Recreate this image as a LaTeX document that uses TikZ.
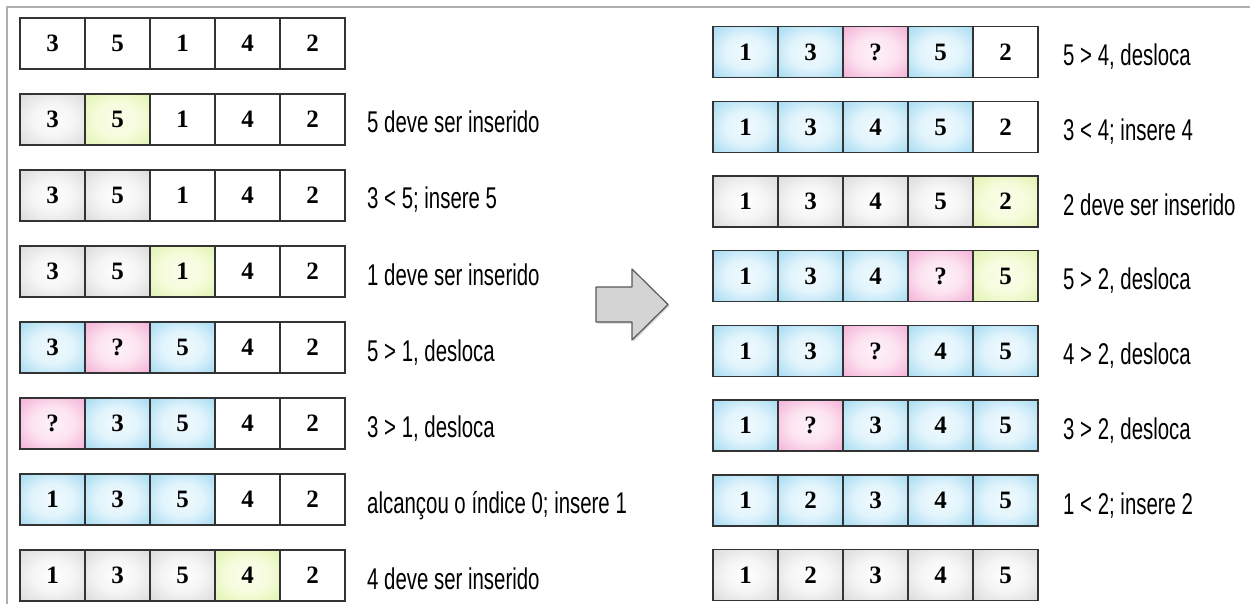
\documentclass[tikz,border=0pt]{standalone}
\usepackage{fontspec}
\setmainfont{Liberation Serif}
\newfontfamily\notefont[FakeStretch=0.68]{Liberation Sans}
\usetikzlibrary{shadows}
\definecolor{framegray}{RGB}{175,175,175}
\definecolor{arrowfill}{RGB}{212,212,212}
\pgfdeclareradialshading{doneglow}{\pgfpoint{0bp}{0bp}}{color(0bp)=(white); color(16bp)=(white!96!black); color(50bp)=(black!22)}
\pgfdeclareradialshading{pickglow}{\pgfpoint{0bp}{0bp}}{color(0bp)=(rgb,255:red,250;green,253;blue,232); color(16bp)=(rgb,255:red,246;green,252;blue,222); color(50bp)=(rgb,255:red,208;green,236;blue,140)}
\pgfdeclareradialshading{moveglow}{\pgfpoint{0bp}{0bp}}{color(0bp)=(rgb,255:red,240;green,250;blue,254); color(16bp)=(rgb,255:red,226;green,244;blue,252); color(50bp)=(rgb,255:red,118;green,200;blue,234)}
\pgfdeclareradialshading{holeglow}{\pgfpoint{0bp}{0bp}}{color(0bp)=(rgb,255:red,254;green,242;blue,248); color(16bp)=(rgb,255:red,252;green,228;blue,240); color(50bp)=(rgb,255:red,238;green,136;blue,198)}
\begin{document}
\begin{tikzpicture}[x=1pt, y=-1pt,
    cell/.style={draw=black!80, line width=1.6pt, minimum width=65pt, minimum height=51pt,
      inner sep=0pt, font=\fontsize{25}{25}\selectfont\bfseries},
    blankcell/.style={fill=white},
    donecell/.style={shading=doneglow},
    pickcell/.style={shading=pickglow},
    movecell/.style={shading=moveglow},
    holecell/.style={shading=holeglow},
    note/.style={anchor=base west, inner sep=0pt, font=\notefont\fontsize{30}{30}\selectfont}]
  \useasboundingbox (0,0) rectangle (1250,604);
  \draw[framegray, line width=1.2pt] (7,604) -- (7,7) -- (1250,7);

  % left column
  \foreach \v/\c [count=\i] in {3/blankcell,5/blankcell,1/blankcell,4/blankcell,2/blankcell}
    \node[cell, \c] (L1-\i) at ({-12.5+65*\i}, 43.5) {\v};
  \foreach \v/\c [count=\i] in {3/donecell,5/pickcell,1/blankcell,4/blankcell,2/blankcell}
    \node[cell, \c] (L2-\i) at ({-12.5+65*\i}, 119.5) {\v};
  \node[note] (L2-txt) at (367, 133) {5 deve ser inserido};
  \foreach \v/\c [count=\i] in {3/donecell,5/donecell,1/blankcell,4/blankcell,2/blankcell}
    \node[cell, \c] (L3-\i) at ({-12.5+65*\i}, 195.5) {\v};
  \node[note] (L3-txt) at (367, 209) {3 < 5; insere 5};
  \foreach \v/\c [count=\i] in {3/donecell,5/donecell,1/pickcell,4/blankcell,2/blankcell}
    \node[cell, \c] (L4-\i) at ({-12.5+65*\i}, 271.5) {\v};
  \node[note] (L4-txt) at (367, 285) {1 deve ser inserido};
  \foreach \v/\c [count=\i] in {3/movecell,?/holecell,5/movecell,4/blankcell,2/blankcell}
    \node[cell, \c] (L5-\i) at ({-12.5+65*\i}, 347.5) {\v};
  \node[note] (L5-txt) at (367, 361) {5 > 1, desloca};
  \foreach \v/\c [count=\i] in {?/holecell,3/movecell,5/movecell,4/blankcell,2/blankcell}
    \node[cell, \c] (L6-\i) at ({-12.5+65*\i}, 423.5) {\v};
  \node[note] (L6-txt) at (367, 437) {3 > 1, desloca};
  \foreach \v/\c [count=\i] in {1/movecell,3/movecell,5/movecell,4/blankcell,2/blankcell}
    \node[cell, \c] (L7-\i) at ({-12.5+65*\i}, 499.5) {\v};
  \node[note] (L7-txt) at (367, 513) {alcançou o índice 0; insere 1};
  \foreach \v/\c [count=\i] in {1/donecell,3/donecell,5/donecell,4/pickcell,2/blankcell}
    \node[cell, \c] (L8-\i) at ({-12.5+65*\i}, 575.5) {\v};
  \node[note] (L8-txt) at (367, 589) {4 deve ser inserido};

  % block arrow between the columns
  \draw[draw=black!65, line width=1.2pt, fill=arrowfill, line join=round,
    drop shadow={opacity=0.35, shadow xshift=1.5pt, shadow yshift=-1.5pt}]
    (596,287) -- (632,287) -- (632,269) -- (668,304.5) -- (632,340) -- (632,322) -- (596,322) -- cycle;

  % right column
  \foreach \v/\c [count=\i] in {1/movecell,3/movecell,?/holecell,5/movecell,2/blankcell}
    \node[cell, \c] (R1-\i) at ({680.5+65*\i}, 52) {\v};
  \node[note] (R1-txt) at (1063, 65.5) {5 > 4, desloca};
  \foreach \v/\c [count=\i] in {1/movecell,3/movecell,4/movecell,5/movecell,2/blankcell}
    \node[cell, \c] (R2-\i) at ({680.5+65*\i}, 127) {\v};
  \node[note] (R2-txt) at (1063, 140.5) {3 < 4; insere 4};
  \foreach \v/\c [count=\i] in {1/donecell,3/donecell,4/donecell,5/donecell,2/pickcell}
    \node[cell, \c] (R3-\i) at ({680.5+65*\i}, 201.5) {\v};
  \node[note] (R3-txt) at (1063, 215) {2 deve ser inserido};
  \foreach \v/\c [count=\i] in {1/movecell,3/movecell,4/movecell,?/holecell,5/pickcell}
    \node[cell, \c] (R4-\i) at ({680.5+65*\i}, 276) {\v};
  \node[note] (R4-txt) at (1063, 289.5) {5 > 2, desloca};
  \foreach \v/\c [count=\i] in {1/movecell,3/movecell,?/holecell,4/movecell,5/movecell}
    \node[cell, \c] (R5-\i) at ({680.5+65*\i}, 351) {\v};
  \node[note] (R5-txt) at (1063, 364.5) {4 > 2, desloca};
  \foreach \v/\c [count=\i] in {1/movecell,?/holecell,3/movecell,4/movecell,5/movecell}
    \node[cell, \c] (R6-\i) at ({680.5+65*\i}, 425.5) {\v};
  \node[note] (R6-txt) at (1063, 439) {3 > 2, desloca};
  \foreach \v/\c [count=\i] in {1/movecell,2/movecell,3/movecell,4/movecell,5/movecell}
    \node[cell, \c] (R7-\i) at ({680.5+65*\i}, 500.5) {\v};
  \node[note] (R7-txt) at (1063, 514) {1 < 2; insere 2};
  \foreach \v/\c [count=\i] in {1/donecell,2/donecell,3/donecell,4/donecell,5/donecell}
    \node[cell, \c] (R8-\i) at ({680.5+65*\i}, 575) {\v};
\end{tikzpicture}
\end{document}
